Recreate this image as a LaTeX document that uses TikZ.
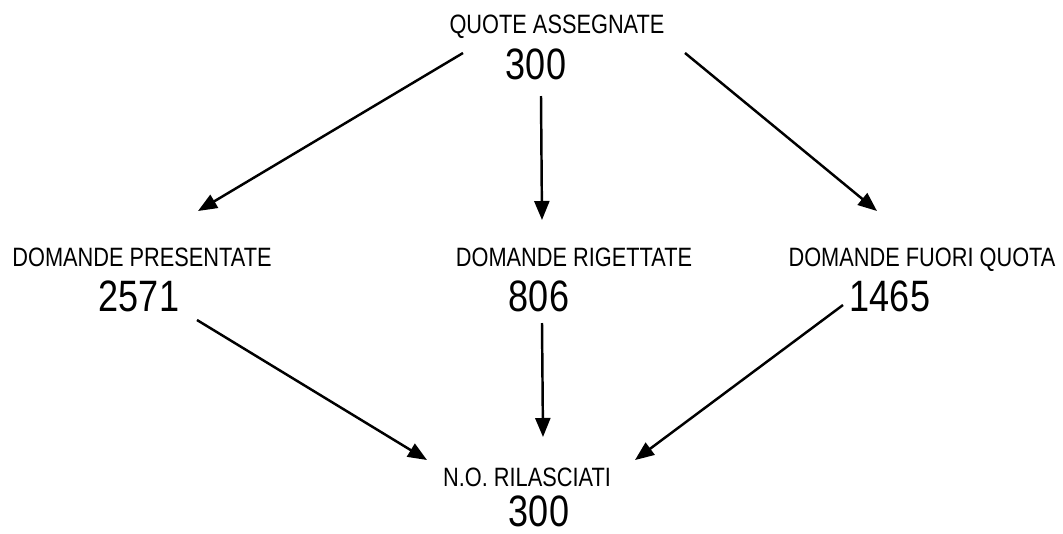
\documentclass[tikz,border=0pt]{standalone}
\usepackage{fontspec}
\setmainfont{Liberation Sans}[FakeStretch=0.82]
\usetikzlibrary{arrows.meta}
\begin{document}
\begin{tikzpicture}[x=0.01cm,y=-0.01cm,
  lbl/.style={anchor=base,inner sep=0pt,font=\fontsize{7.55}{9}\selectfont},
  num/.style={anchor=base,inner sep=0pt,font=\fontsize{12.5}{15}\selectfont},
  conn/.style={line width=0.7pt,-{Triangle[length=0.19cm,width=0.15cm]}}]
\useasboundingbox (0,0) rectangle (1063,533);
% labels
\node[lbl] (tl) at (557,33) {QUOTE ASSEGNATE};
\node[num] (tn) at (536,79) {300};
\node[lbl] (pl) at (142,266) {DOMANDE PRESENTATE};
\node[num] (pn) at (139,311) {2571};
\node[lbl] (rl) at (574,266) {DOMANDE RIGETTATE};
\node[num] (rn) at (539,311) {806};
\node[lbl] (fl) at (922,266) {DOMANDE FUORI QUOTA};
\node[num] (fn) at (890,311) {1465};
\node[lbl] (bl) at (527,486) {N.O. RILASCIATI};
\node[num] (bn) at (539,526) {300};
% connector end points
\coordinate (t1) at (463,53);
\coordinate (t2) at (541,96);
\coordinate (t3) at (685,53);
\coordinate (p1) at (198,211);
\coordinate (r1) at (542,220);
\coordinate (f1) at (877,211);
\coordinate (p2) at (197,320);
\coordinate (r2) at (542,323);
\coordinate (f2) at (843,305);
\coordinate (b1) at (427,460);
\coordinate (b2) at (543,437);
\coordinate (b3) at (635,460);
\draw[conn] (t1) -- (p1);
\draw[conn] (t2) -- (r1);
\draw[conn] (t3) -- (f1);
\draw[conn] (p2) -- (b1);
\draw[conn] (r2) -- (b2);
\draw[conn] (f2) -- (b3);
\end{tikzpicture}
\end{document}
